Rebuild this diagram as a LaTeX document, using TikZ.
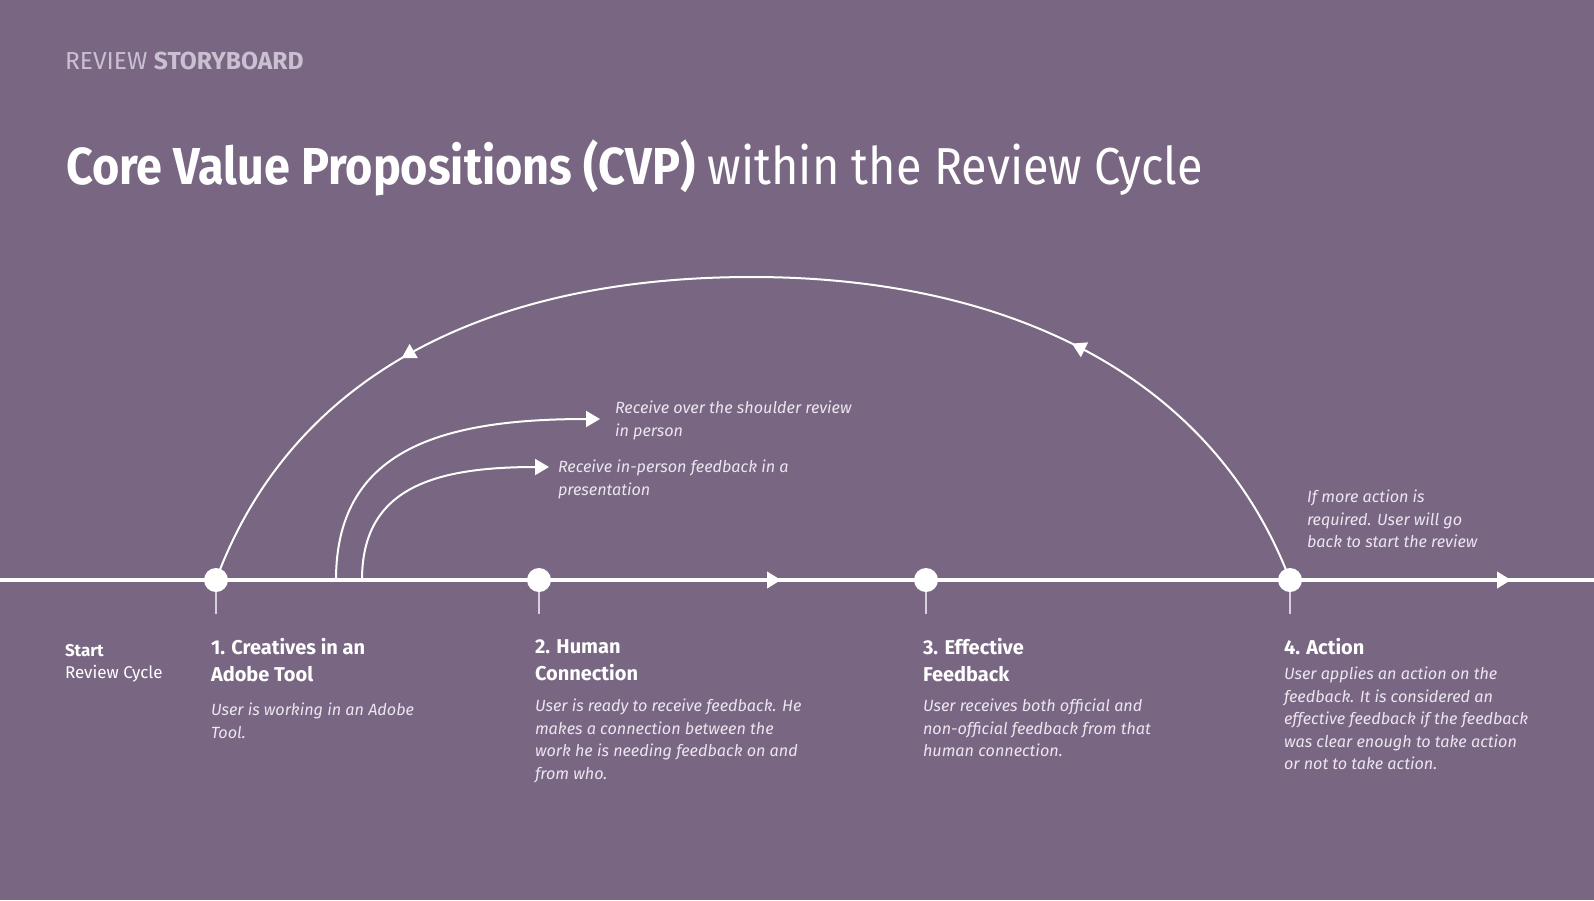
\documentclass[tikz,border=0pt]{standalone}
\usepackage{fontspec}
\setmainfont{Fira Sans}
\newfontfamily\titlefont[FakeStretch=0.9]{Fira Sans}
\usetikzlibrary{arrows.meta, decorations.markings}

\definecolor{bgpurple}{RGB}{120,102,130}
\definecolor{softgray}{RGB}{202,192,210}
\definecolor{paletext}{RGB}{236,230,240}
\definecolor{tickgray}{RGB}{215,208,222}

\begin{document}
\begin{tikzpicture}[x=0.5pt, y=-0.5pt,
    every node/.style={inner sep=0pt, outer sep=0pt, text=white},
    dot/.style={circle, fill=white, minimum size=12pt},
    head/.style={anchor=north west, align=left,
                 font=\fontsize{10}{13.5}\selectfont\bfseries},
    desc/.style={anchor=north west, align=left, text=paletext,
                 font=\fontsize{8.1}{11.25}\selectfont\itshape},
    timeline/.style={white, line width=2pt},
    tick/.style={tickgray, line width=0.8pt},
    arc/.style={white, line width=1pt},
    tip/.style={-{Triangle[length=7pt, width=8pt]}},
    midtips/.style={postaction={decorate}, decoration={markings,
        mark=at position 0.25 with {\arrow{Triangle[length=7pt, width=8pt]}},
        mark=at position 0.776 with {\arrow{Triangle[length=7pt, width=8pt]}}}},
    linetips/.style={postaction={decorate}, decoration={markings,
        mark=at position 0.49 with {\arrow{Triangle[length=7pt, width=8pt]}},
        mark=at position 0.948 with {\arrow{Triangle[length=7pt, width=8pt]}}}}
]
\fill[bgpurple] (0,0) rectangle (1594,900);
\useasboundingbox (0,0) rectangle (1594,900);

% heading
\node[anchor=north west, text=softgray, font=\fontsize{12.3}{14}\selectfont]
    (kicker) at (65,52) {REVIEW \textbf{STORYBOARD}};
\node[anchor=north west, font=\titlefont\fontsize{26}{32}\selectfont]
    (title) at (66,140) {\textbf{Core Value Propositions (CVP)} within the Review Cycle};

% timeline
\coordinate (lstart) at (0,580);
\coordinate (lend)   at (1594,580);
\draw[timeline, linetips] (lstart) -- (lend);

\coordinate (b1) at (336,580);
\coordinate (b2) at (362,580);
\coordinate (r1) at (600,419);
\coordinate (r2) at (549,467);

\foreach \n/\x in {1/216, 2/539, 3/926, 4/1290}{
  \coordinate (k\n) at (\x,614);
  \draw[tick] (\x,580) -- (k\n);
}

% loop back and in-person branches
\draw[arc, midtips] (1290,580) .. controls (1210,370) and (1000,277) .. (752,277)
                    .. controls (480,277) and (290,380) .. (216,580);
\draw[arc, tip] (b1) .. controls (336,450) and (440,419) .. (r1);
\draw[arc, tip] (b2) .. controls (362,490) and (430,467) .. (r2);

\foreach \n/\x in {1/216, 2/539, 3/926, 4/1290}
  \node[dot] (d\n) at (\x,580) {};

% branch notes
\node[desc] (over)  at (615,401) {Receive over the shoulder review\\in person};
\node[desc] (pres)  at (558,460) {Receive in-person feedback in a\\presentation};
\node[desc] (again) at (1307,490) {If more action is\\required. User will go\\back to start the review};

% steps
\node[anchor=north west, align=left, font=\fontsize{8.5}{11.25}\selectfont]
    (start) at (65,644) {\textbf{Start}\\Review Cycle};
\node[head] (h1) at (211,638) {1. Creatives in an\\Adobe Tool};
\node[desc] (t1) at (211,703) {User is working in an Adobe\\Tool.};
\node[head] (h2) at (535,640) {2. Human\\Connection};
\node[desc] (t2) at (535,699) {User is ready to receive feedback. He\\makes a connection between the\\work he is needing feedback on and\\from who.};
\node[head] (h3) at (923,638) {3. Effective\\Feedback};
\node[desc] (t3) at (923,699) {User receives both official and\\non-official feedback from that\\human connection.};
\node[head] (h4) at (1284,638) {4. Action};
\node[desc] (t4) at (1284,667) {User applies an action on the\\feedback. It is considered an\\effective feedback if the feedback\\was clear enough to take action\\or not to take action.};
\end{tikzpicture}
\end{document}
